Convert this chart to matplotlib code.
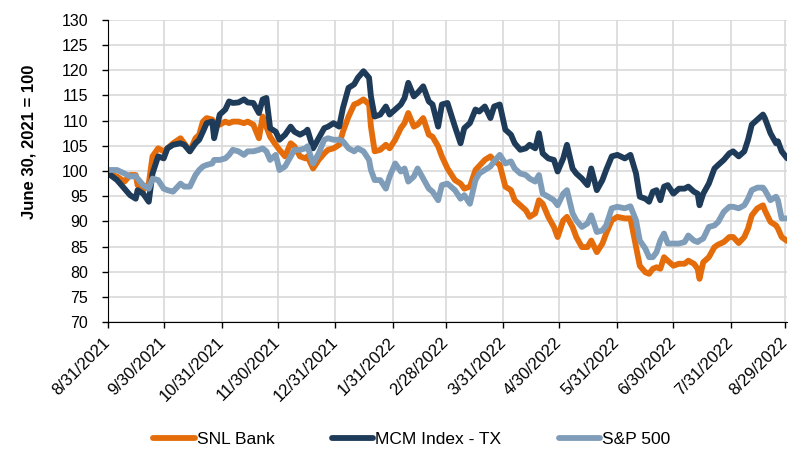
import pandas as pd
import matplotlib
matplotlib.use("Agg")
import matplotlib.pyplot as plt
from matplotlib.transforms import ScaledTranslation

plt.rcParams['font.family'] = ['Liberation Sans', 'DejaVu Sans']

# day offsets from 8/31/2021
start = pd.Timestamp("2021-08-31")
days = [0, 5, 9, 12, 15, 16, 19, 22, 24, 27, 30, 32, 35, 39, 41, 44, 47, 49, 51, 53, 56, 57, 60, 63, 65, 67, 70, 73, 75, 78, 81, 83, 85, 87, 90, 92,
        95, 98, 100, 103, 106, 107, 110, 113, 116, 118, 121, 124, 126, 129, 132, 134, 137, 140, 141, 143, 146, 149, 151, 154, 157, 159, 161, 164, 166, 169, 172, 174, 177, 179, 182,
        186, 189, 191, 194, 197, 199, 202, 205, 207, 210, 213, 216, 218, 221, 224, 226, 229, 231, 233, 236, 239, 241, 244, 246, 249, 251, 254, 257, 259, 262, 265, 267, 270, 273,
        277, 280, 283, 285, 288, 290, 292, 294, 296, 298, 300, 303, 306, 309, 311, 314, 316, 317, 319, 322, 325, 327, 330, 333, 335, 338, 341, 343, 345, 348, 351, 352, 355, 358, 359, 361, 364]

snl_bank = [99.5, 98.9, 97.9, 99.2, 99.2, 97.2, 96.2, 97.5, 102.9, 104.5, 103.9, 104.5, 105.5, 106.5, 105.5, 103.9, 106.5, 107.2, 109.8, 110.5, 110.2, 109.5, 109.2, 109.8, 109.5, 109.8, 109.8, 109.5, 109.8, 109.2, 106.5, 110.8, 108.8, 106.8, 105.2, 104.2,
            102.9, 105.5, 104.9, 102.9, 102.5, 102.9, 100.5, 102.2, 103.5, 104.2, 104.5, 105.2, 107.8, 110.8, 113.2, 113.5, 114.2, 113.2, 108.8, 103.9, 104.2, 105.2, 104.5, 106.2, 108.5, 109.5, 111.5, 108.8, 109.2, 110.5, 107.2, 106.8, 104.9, 102.9, 100.5,
            98.2, 97.5, 96.5, 96.9, 100.2, 101, 102.2, 102.9, 102.1, 101.2, 96.9, 96.2, 94.2, 93.2, 92.2, 90.9, 91.6, 94.2, 93.5, 90.9, 88.9, 86.9, 90.2, 90.9, 88.9, 86.9, 84.9, 84.9, 86.2, 83.9, 85.6, 87.6, 90.2, 90.9,
            90.6, 90.6, 84.9, 81.2, 79.9, 79.6, 80.6, 80.9, 80.6, 82.9, 82.2, 81.2, 81.6, 81.6, 82.2, 81.6, 80.6, 78.6, 81.9, 82.9, 84.9, 85.4, 85.9, 86.9, 86.9, 85.7, 86.9, 88.6, 91.2, 92.6, 93.2, 92.2, 89.9, 89.2, 88.6, 86.9, 86.1]

mcm_tx = [99.6, 98.2, 96.5, 95.2, 94.5, 96.2, 95.5, 93.9, 99.5, 102.9, 102.5, 104.5, 105.2, 105.5, 105.2, 103.9, 105.5, 106.2, 107.8, 109.5, 109.8, 106.5, 111.2, 112.2, 113.8, 113.5, 113.6, 114.2, 113.6, 113.5, 111.5, 114.2, 114.5, 108.5, 107.8, 106.2,
          107.2, 108.8, 107.8, 107.2, 107.8, 108.2, 104.5, 106.5, 108.5, 108.8, 109.5, 108.8, 112.5, 116.5, 117.2, 118.5, 119.8, 118.5, 114.8, 110.8, 111.2, 112.8, 111.2, 112.2, 113.2, 114.5, 117.5, 114.8, 115.5, 116.8, 113.8, 113.2, 108.8, 113.2, 113.5,
          108.8, 105.5, 108.5, 109.5, 112.2, 111.8, 112.8, 110.5, 112.8, 113.2, 108.2, 107.2, 105.5, 104.2, 104.5, 105.2, 104.5, 107.5, 103.5, 102.5, 102.2, 99.9, 102.5, 105.2, 100.5, 99.5, 98.5, 97.2, 100.5, 96.2, 98.2, 100.2, 102.9, 103.2,
          102.5, 103.2, 99.5, 94.9, 94.5, 93.9, 95.9, 96.2, 94.2, 96.9, 97.2, 95.5, 96.5, 96.5, 96.9, 95.9, 95.5, 93.2, 95.5, 97.5, 100.5, 101.2, 102.2, 103.5, 103.9, 102.9, 103.9, 106.2, 109.2, 110.2, 111.2, 110.5, 107.5, 105.5, 105.9, 103.9, 102.5]

sp500 = [100.2, 100.2, 99.5, 98.9, 99, 98.5, 97.2, 96.5, 98.5, 98.2, 96.5, 96.2, 95.9, 97.5, 96.9, 96.9, 99.2, 100.2, 100.9, 101.2, 101.5, 102.2, 102.2, 102.5, 103.2, 104.2, 103.9, 103.2, 103.9, 103.9, 104.2, 104.5, 103.9, 102.2, 103.2, 100.2,
         100.9, 102.9, 104.2, 104.2, 104.5, 104.9, 101.5, 103.5, 106.2, 106.5, 106.2, 106.2, 105.9, 104.5, 103.9, 104.5, 103.9, 102.2, 100.2, 98.2, 98.2, 96.5, 98.9, 101.5, 99.9, 100.5, 97.9, 98.9, 100.5, 98.5, 96.5, 95.9, 94.2, 97.2, 97.5,
         96.2, 94.5, 95.2, 93.5, 98.2, 99.5, 100.2, 100.9, 101.9, 103.2, 101.5, 101.9, 100.5, 99.5, 99.2, 98.5, 97.9, 99.2, 95.5, 94.9, 94.2, 93.2, 95.5, 96.2, 91.6, 90.2, 88.9, 89.6, 91.2, 87.9, 88.2, 89.2, 92.6, 92.9,
         92.6, 93, 90.2, 86.2, 84.6, 82.9, 82.9, 83.9, 86.2, 87.6, 85.6, 85.6, 85.6, 85.9, 87.2, 86.2, 85.9, 86.2, 86.6, 88.9, 89.2, 89.9, 91.9, 92.9, 92.9, 92.6, 93.2, 94.5, 96.2, 96.7, 96.7, 96.2, 94.2, 94.9, 94.2, 90.6, 90.6]

tick_dates = ["2021-08-31", "2021-09-30", "2021-10-31", "2021-11-30", "2021-12-31", "2022-01-31",
              "2022-02-28", "2022-03-31", "2022-04-30", "2022-05-31", "2022-06-30", "2022-07-31", "2022-08-29"]

dates = start + pd.to_timedelta(days, unit="D")
ticks = pd.to_datetime(tick_dates)

fig = plt.figure(figsize=(7.92, 4.5), dpi=100)
ax = fig.add_axes([0.136, 0.284, 0.858, 0.672])

line_kw = dict(lw=4.2, solid_joinstyle='round', solid_capstyle='round')
ax.plot(dates, snl_bank, color='#E46C0A', label='SNL Bank', **line_kw)
ax.plot(dates, mcm_tx, color='#1F3B5A', label='MCM Index - TX', **line_kw)
ax.plot(dates, sp500, color='#7F9DB9', label='S&P 500', **line_kw)

ax.set_ylim(70, 130)
ax.set_yticks(range(70, 131, 5))
ax.set_xlim(start, start + pd.Timedelta(days=364))
ax.set_xticks(ticks)
ax.set_xticklabels([f"{d.month}/{d.day}/{d.year}" for d in ticks], rotation=45,
                   ha='right', rotation_mode='anchor')

ax.grid(True, color='#D9D9D9', lw=1.2)
ax.set_axisbelow(True)
for s in ['top', 'right']:
    ax.spines[s].set_visible(False)
ax.spines['left'].set_color('black')
ax.spines['bottom'].set_color('black')
ax.tick_params(axis='both', length=4, width=1, color='black')
ax.tick_params(axis='y', labelsize=11.5, pad=10)
ax.tick_params(axis='x', labelsize=12, pad=5)

# nudge the rotated labels a little left so the last one stays inside the figure
shift = ScaledTranslation(-4 / 72, 0, fig.dpi_scale_trans)
for lbl in ax.get_xticklabels():
    lbl.set_transform(lbl.get_transform() + shift)

ax.set_ylabel('June 30, 2021 = 100', fontsize=12, fontweight='bold')
ax.yaxis.set_label_coords(-0.105, 0.596)

fig.legend(loc='lower center', bbox_to_anchor=(0.52, -0.028), ncol=3, frameon=False,
           fontsize=12.5, handlelength=2.4, handletextpad=0.1, columnspacing=3.3)

fig.savefig('out.png', dpi=100)
